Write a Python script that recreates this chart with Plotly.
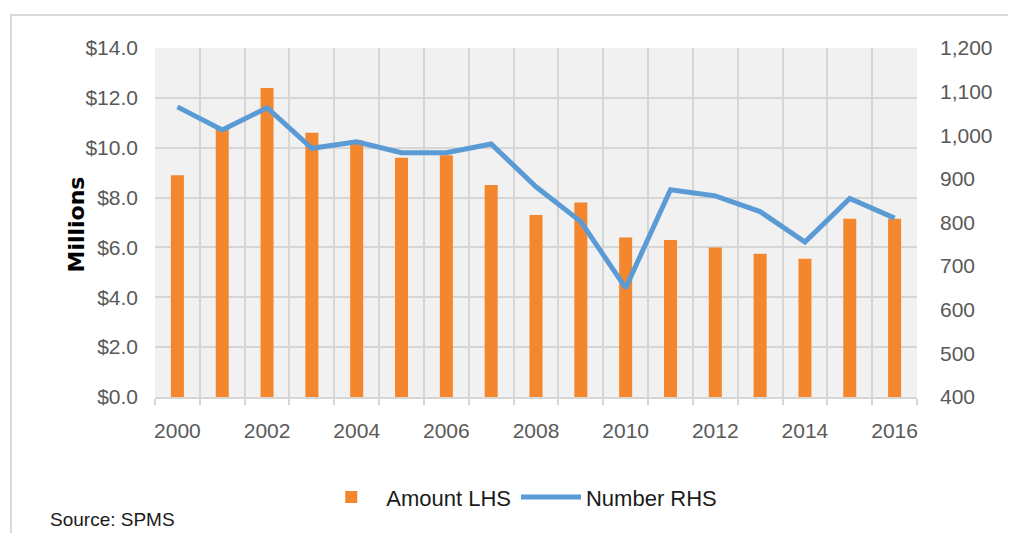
import plotly.graph_objects as go

years = list(range(2000, 2017))
amount_millions = [8.9, 10.8, 12.4, 10.6, 10.3, 9.6, 9.7, 8.5, 7.3, 7.8, 6.4, 6.3, 6.0, 5.75, 5.55, 7.15, 7.15]
number_cases = [1065, 1012, 1063, 970, 985, 960, 960, 980, 882, 802, 650, 875, 861, 825, 755, 855, 810]
x_tick_years = [2000, 2002, 2004, 2006, 2008, 2010, 2012, 2014, 2016]

FONT_FAMILY = "Liberation Sans"
TICK_FONT = dict(family=FONT_FAMILY, size=21, color="#595959")
GRID = "#d6d6d6"

fig = go.Figure()

fig.add_trace(go.Bar(
    x=years, y=amount_millions, name="Amount LHS",
    marker=dict(color="#F4862E", line=dict(width=0)),
    width=0.29, yaxis="y",
))
fig.add_trace(go.Scatter(
    x=years, y=number_cases, name="Number RHS", mode="lines",
    line=dict(color="#5B9BD5", width=5), yaxis="y2",
))

# page body has an 8px margin, so the figure is a bit smaller than the window
fig.update_layout(
    width=1000, height=525,
    margin=dict(l=147, r=91, t=40, b=136, autoexpand=False),
    paper_bgcolor="white",
    plot_bgcolor="#f1f1f1",
    font=TICK_FONT,
    showlegend=True,
    legend=dict(
        orientation="h", x=0.478, xanchor="center", y=-0.287, yanchor="middle",
        font=dict(family=FONT_FAMILY, size=22, color="#1a1a1a"),
        bgcolor="rgba(0,0,0,0)", itemwidth=60, traceorder="normal",
    ),
    xaxis=dict(
        range=[1999.5, 2016.5], tickvals=x_tick_years, ticks="",
        showgrid=False, zeroline=False, tickfont=TICK_FONT, automargin=False,
        showline=True, linecolor=GRID, linewidth=2,
        minor=dict(tick0=1999.5, dtick=1, showgrid=True, gridcolor=GRID, gridwidth=2,
                   ticks="outside", ticklen=6, tickcolor=GRID, tickwidth=2),
        ticklabelstandoff=14,
    ),
    yaxis=dict(
        range=[0, 14], dtick=2, tickprefix="$", tickformat=".1f",
        showgrid=True, gridcolor=GRID, gridwidth=2, zeroline=False, automargin=False,
        tickfont=TICK_FONT, ticklabelstandoff=16,
    ),
    yaxis2=dict(
        range=[400, 1200], dtick=100, tickformat=",", overlaying="y", side="right",
        showgrid=False, zeroline=False, tickfont=TICK_FONT, ticklabelstandoff=22,
        automargin=False,
    ),
)

# axis title and source note
fig.add_annotation(
    text="<b>Millions</b>", xref="paper", yref="paper", x=-0.122, y=0.493,
    textangle=-90, showarrow=False,
    font=dict(family="DejaVu Sans", size=22, color="black"),
)
fig.add_annotation(
    text="Source: SPMS", xref="paper", yref="paper", x=-0.140, y=-0.386,
    xanchor="left", yanchor="bottom", showarrow=False,
    font=dict(family=FONT_FAMILY, size=19, color="#1a1a1a"),
)

# light frame around the chart
fig.add_shape(
    type="rect", xref="paper", yref="paper", x0=-0.189, x1=1.2, y0=-0.7, y1=1.0946,
    line=dict(color="#d9d9d9", width=2), fillcolor="rgba(0,0,0,0)", layer="below",
)

fig.write_html("out.html")
